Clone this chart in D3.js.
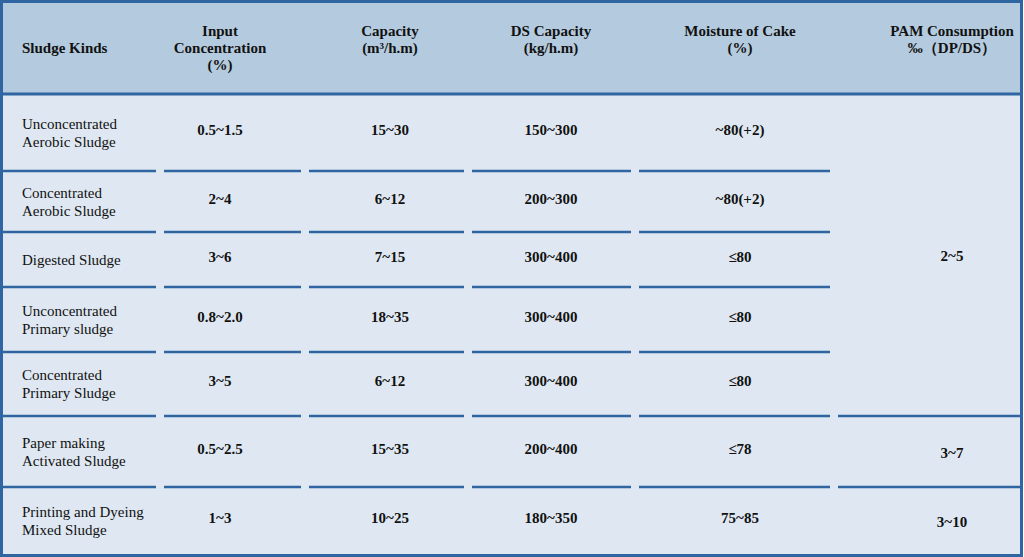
<!DOCTYPE html>
<html>
<head>
<meta charset="utf-8">
<script src="https://cdn.jsdelivr.net/npm/d3@7"></script>
<style>
  body { margin: 0; background: #fff; }
  svg text { font-family: "Liberation Serif", "Times New Roman", serif; fill: #111; }
</style>
</head>
<body>
<svg id="chart" width="1024" height="557"></svg>
<script>
// table content
const headers = [
    ["Sludge Kinds"],
    ["Input", "Concentration", "(%)"],
    ["Capacity", "(m³/h.m)"],
    ["DS Capacity", "(kg/h.m)"],
    ["Moisture of Cake", "(%)"],
    ["PAM Consumption", "‰（DP/DS）"]
];
const sludgeKinds = [
    ["Unconcentrated", "Aerobic Sludge"],
    ["Concentrated", "Aerobic Sludge"],
    ["Digested Sludge"],
    ["Unconcentrated", "Primary sludge"],
    ["Concentrated", "Primary Sludge"],
    ["Paper making", "Activated Sludge"],
    ["Printing and Dyeing", "Mixed Sludge"]
];
const inputConc = ["0.5~1.5", "2~4", "3~6", "0.8~2.0", "3~5", "0.5~2.5", "1~3"];
const capacity = ["15~30", "6~12", "7~15", "18~35", "6~12", "15~35", "10~25"];
const dsCapacity = ["150~300", "200~300", "300~400", "300~400", "300~400", "200~400", "180~350"];
const moisture = ["~80(+2)", "~80(+2)", "≤80", "≤80", "≤80", "≤78", "75~85"];
// PAM column: merged cells, [first row, last row, value]
const pam = [[0, 4, "2~5"], [5, 5, "3~7"], [6, 6, "3~10"]];

// layout
const colEdges = [3, 160, 305, 468, 635, 834, 1021];
const textX = [22, 220, 390, 551, 740, 952];
const rowEdges = [94, 171, 232, 287, 352, 416, 487, 555];
const fs = 15;
const svg = d3.select("#chart");

const row = d3.scaleLinear().domain(d3.range(rowEdges.length)).range(rowEdges);

svg.append("rect").attr("x", 2).attr("y", 2).attr("width", 1020).attr("height", 553)
    .attr("fill", "#dfe8f2");
svg.append("rect").attr("x", 2).attr("y", 2).attr("width", 1020).attr("height", 92)
    .attr("fill", "#b4cbdf");

// header text
headers.forEach((lines, c) => {
    const t = svg.append("text")
        .attr("text-anchor", c === 0 ? "start" : "middle")
        .attr("font-size", fs).attr("font-weight", "bold");
    const y0 = c === 0 ? 53 : 36;
    lines.forEach((l, i) => t.append("tspan").attr("x", textX[c])
        .attr("y", y0 + i * 17).text(l));
});

// first column names
sludgeKinds.forEach((lines, r) => {
    const cy = (row(r) + row(r + 1)) / 2;
    const t = svg.append("text").attr("font-size", fs);
    lines.forEach((l, i) => t.append("tspan").attr("x", 22)
        .attr("y", cy + 5 + (i - (lines.length - 1) / 2) * 18).text(l));
});

// value columns
[inputConc, capacity, dsCapacity, moisture].forEach((vals, k) => {
    svg.append("g").selectAll("text").data(vals).join("text")
        .attr("x", textX[k + 1])
        .attr("y", (d, r) => (row(r) + row(r + 1)) / 2 + 2)
        .attr("text-anchor", "middle").attr("font-size", fs).attr("font-weight", "bold")
        .text(d => d);
});
svg.append("g").selectAll("text").data(pam).join("text")
    .attr("x", textX[5])
    .attr("y", d => (row(d[0]) + row(d[1] + 1)) / 2 + 6)
    .attr("text-anchor", "middle").attr("font-size", fs).attr("font-weight", "bold")
    .text(d => d[2]);

// separators
const lineColor = "#2f66a2";
for (let r = 1; r < rowEdges.length - 1; r++) {
    for (let c = 0; c < 6; c++) {
        if (c === 5 && r < 5) continue;
        svg.append("line")
            .attr("x1", c === 0 ? 3 : colEdges[c] + 4).attr("x2", c === 5 ? 1021 : colEdges[c + 1] - 4)
            .attr("y1", row(r)).attr("y2", row(r))
            .attr("stroke", lineColor).attr("stroke-width", 2.5);
    }
}
svg.append("line").attr("x1", 2).attr("x2", 1022).attr("y1", 94).attr("y2", 94)
    .attr("stroke", lineColor).attr("stroke-width", 3);
svg.append("rect").attr("x", 1.5).attr("y", 1.5).attr("width", 1020).attr("height", 554)
    .attr("fill", "none").attr("stroke", lineColor).attr("stroke-width", 3);
</script>
</body>
</html>
